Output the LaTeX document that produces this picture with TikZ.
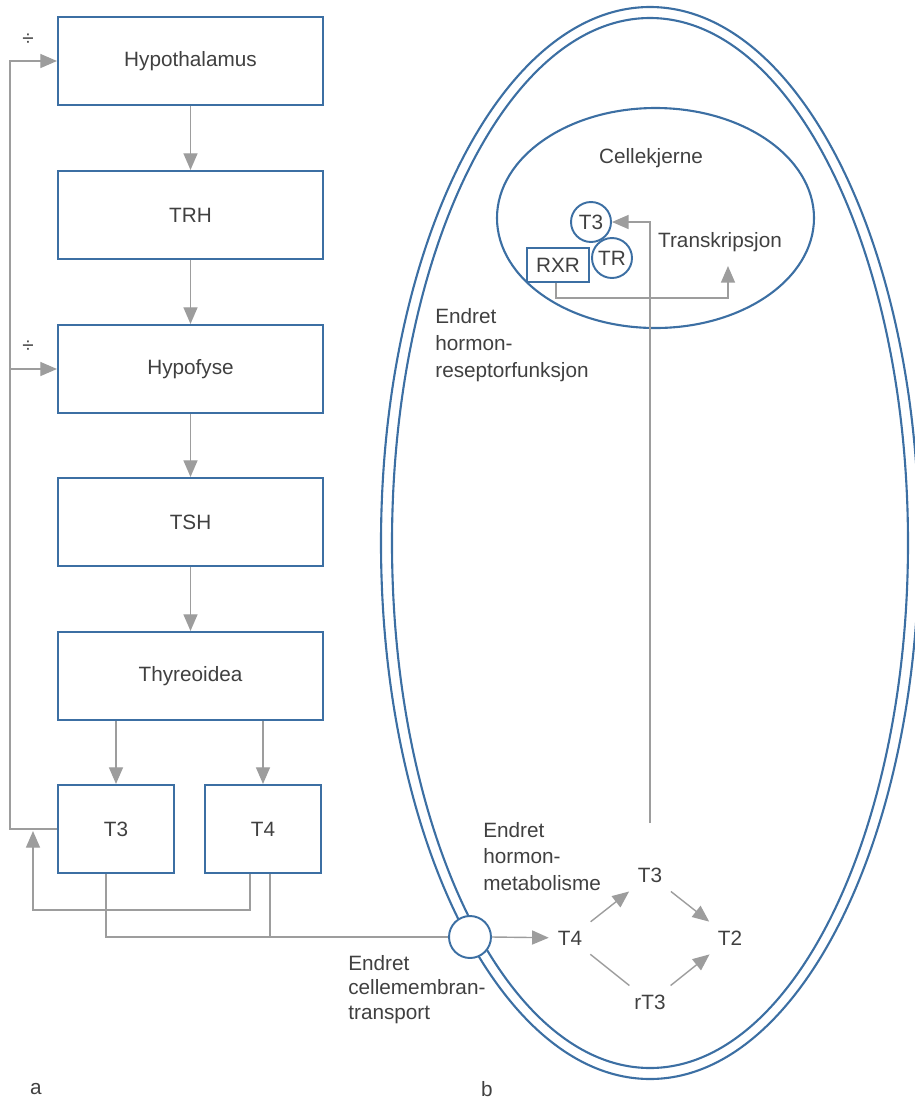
\documentclass[tikz,border=0pt]{standalone}
\usepackage{fontspec}
\setmainfont{Liberation Sans}
\usetikzlibrary{arrows.meta}
\definecolor{cellblue}{HTML}{3C6FA3}
\definecolor{linegrey}{HTML}{9D9D9D}
\definecolor{textgrey}{HTML}{404040}
\tikzset{
	boxstyle/.style={rectangle,draw=cellblue,line width=1.2pt,fill=white,minimum width=5.3cm,minimum height=1.76cm,text=textgrey},
	smallboxstyle/.style={boxstyle,minimum width=2.32cm},
	ringstyle/.style={circle,draw=cellblue,line width=1.1pt,fill=white,minimum size=0.8cm,inner sep=0pt,text=textgrey},
	rxrstyle/.style={rectangle,draw=cellblue,line width=1.1pt,fill=white,minimum width=1.24cm,minimum height=0.68cm,inner sep=0pt,text=textgrey},
	molstyle/.style={inner sep=5pt,text=textgrey},
	labelstyle/.style={inner sep=0pt,text=textgrey,align=left},
	flowstyle/.style={draw=linegrey,line width=0.8pt},
	arrowstyle/.style={flowstyle,-{Triangle[length=9.5pt,width=8pt]}}
}
\begin{document}
\begin{tikzpicture}[x=0.02cm,y=-0.02cm,font=\fontsize{11.8}{15}\selectfont]
	\useasboundingbox (0,0) rectangle (915,1100);
	% cell and nucleus
	\draw[cellblue,line width=1.2pt] (650,543) ellipse [x radius=269,y radius=536];
	\draw[cellblue,line width=1.2pt] (650,543) ellipse [x radius=258,y radius=525];
	\draw[cellblue,line width=1.2pt] (655.5,218) ellipse [x radius=158.5,y radius=110];
	% axis of the hormones
	\node[boxstyle] (hypo) at (190.5,61) {Hypothalamus};
	\node[boxstyle] (trh) at (190.5,215) {TRH};
	\node[boxstyle] (hypof) at (190.5,369) {Hypofyse};
	\node[boxstyle] (tsh) at (190.5,522) {TSH};
	\node[boxstyle] (thyr) at (190.5,676) {Thyreoidea};
	\node[smallboxstyle] (t3) at (116,829) {T3};
	\node[smallboxstyle] (t4) at (263,829) {T4};
	\node[text=textgrey] (div1) at (28,40) {÷};
	\node[text=textgrey] (div2) at (28,347) {÷};
	\draw[arrowstyle] (hypo)--(trh);
	\draw[arrowstyle] (trh)--(hypof);
	\draw[arrowstyle] (hypof)--(tsh);
	\draw[arrowstyle] (tsh)--(thyr);
	\draw[arrowstyle] (thyr.south -| t3)--(t3);
	\draw[arrowstyle] (thyr.south -| t4)--(t4);
	% feedback
	\coordinate (fbcorner) at (10,829);
	\coordinate (fbend) at (33,831);
	\draw[arrowstyle] (t3.west)--(fbcorner) |- (hypo.west);
	\draw[arrowstyle] (fbcorner) |- (hypof.west);
	\draw[arrowstyle] ([xshift=-0.26cm]t4.south)--++(0,36) -| (fbend);
	% membrane
	\node[ringstyle,minimum size=0.84cm] (memb) at (470,937) {};
	\draw[flowstyle] ([xshift=-0.2cm]t3.south) |- (memb.west);
	\draw[flowstyle] ([xshift=0.14cm]t4.south)--++(0,64);
	% metabolism
	\node[molstyle] (mt4) at (570,938) {T4};
	\node[molstyle] (mt3) at (650,875) {T3};
	\node[molstyle] (mt2) at (730,938) {T2};
	\node[molstyle] (rt3) at (650,1002) {rT3};
	\draw[arrowstyle] (memb.east)--(mt4);
	\draw[arrowstyle] (mt4)--(mt3);
	\draw[arrowstyle] (mt3)--(mt2);
	\draw[flowstyle] (mt4)--(rt3);
	\draw[arrowstyle] (rt3)--(mt2);
	% nucleus
	\node[text=textgrey] (kjerne) at (651,158) {Cellekjerne};
	\node[ringstyle] (nt3) at (591,222) {T3};
	\node[ringstyle] (tr) at (612,258) {TR};
	\node[rxrstyle] (rxr) at (558,265) {RXR};
	\node[text=textgrey] (trans) at (720,242) {Transkripsjon};
	\coordinate (up) at (650,823);
	\coordinate (transend) at (728,266);
	\draw[arrowstyle] (up) |- (nt3.east);
	\draw[arrowstyle] ([xshift=-0.04cm]rxr.south)--++(0,15) -| (transend);
	% labels
	\node[labelstyle,anchor=north west,font=\fontsize{11.8}{15.3}\selectfont] (lrec) at (435,308) {Endret\\hormon-\\reseptorfunksjon};
	\node[labelstyle,anchor=north west,font=\fontsize{11.8}{15}\selectfont] (lmet) at (483,822) {Endret\\hormon-\\metabolisme};
	\node[labelstyle,anchor=north west,font=\fontsize{11.8}{14}\selectfont] (ltra) at (348,955) {Endret\\cellemembran-\\transport};
	\node[text=textgrey] (la) at (36,1089) {a};
	\node[text=textgrey] (lb) at (487,1089) {b};
\end{tikzpicture}
\end{document}
